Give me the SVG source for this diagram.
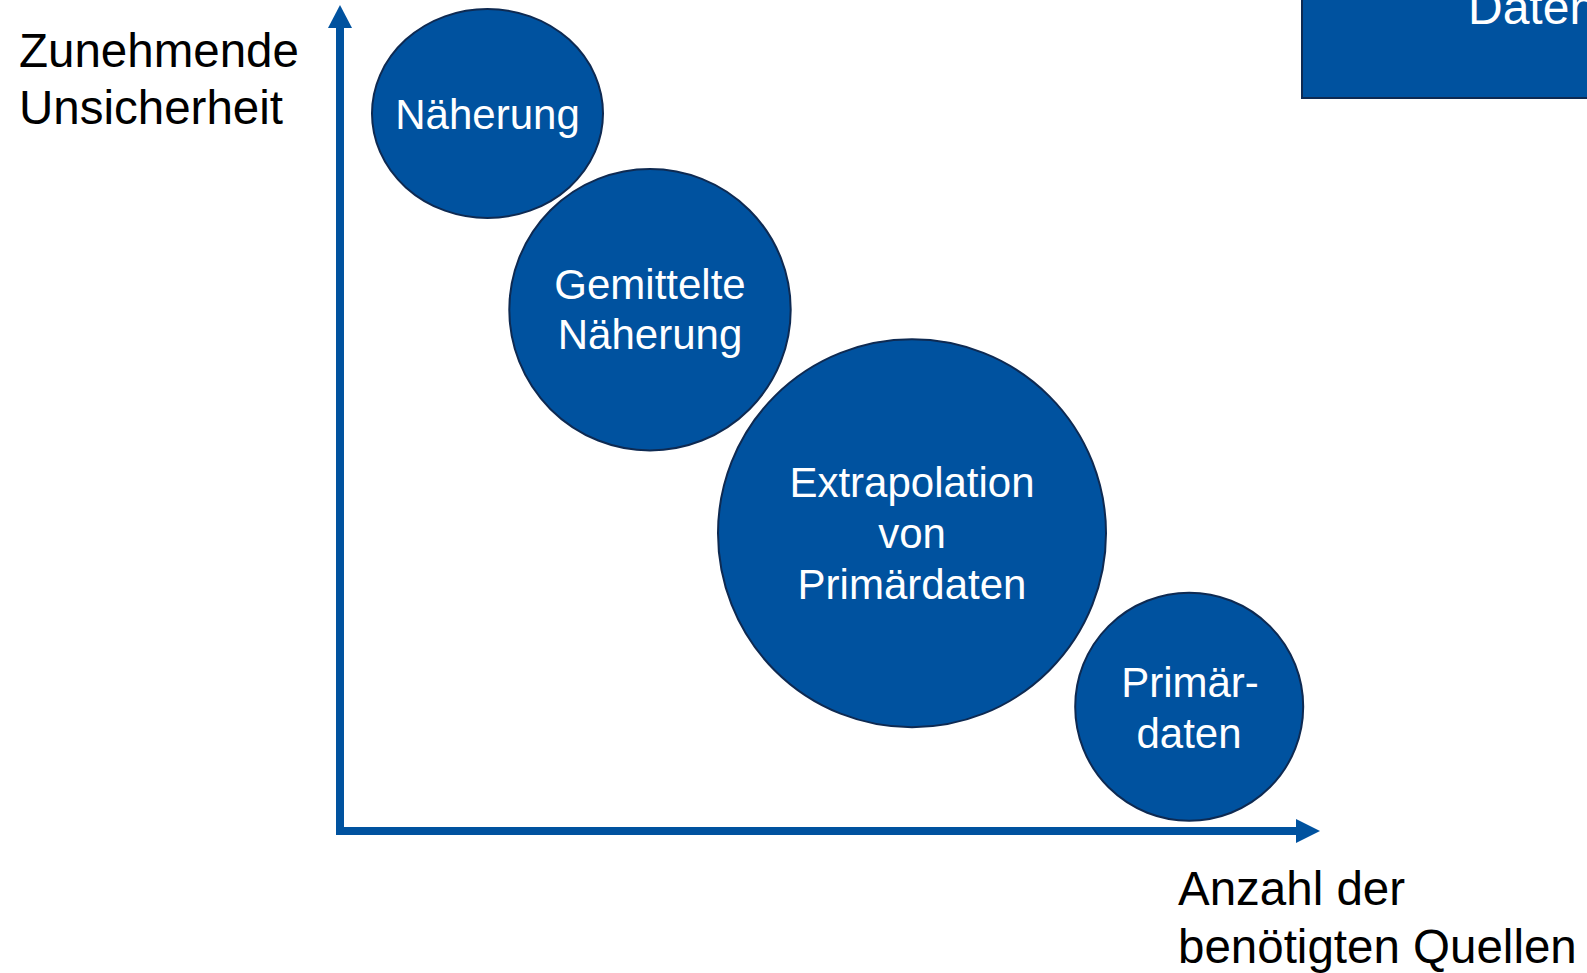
<svg xmlns="http://www.w3.org/2000/svg" width="1587" height="973" viewBox="0 0 1587 973">
<style>
.node{fill:#00529F;stroke:#0E2A52;stroke-width:2}
.wt{fill:#FFFFFF;font-family:"Liberation Sans",Arial,sans-serif;font-size:42px;text-anchor:middle}
.bt{fill:#000000;font-family:"Liberation Sans",Arial,sans-serif;font-size:47.5px}
.axis{stroke:#00529F;stroke-width:8;fill:none}
.head{fill:#00529F}
</style>
<rect width="1587" height="973" fill="#FFFFFF"/>
<g id="box-daten">
<rect class="node" x="1302" y="-20" width="300" height="118"/>
<text class="wt" x="1468" y="24" style="text-anchor:start;font-size:48px">Daten</text>
</g>
<g id="connectors">
<path class="axis" d="M340 835 V26"/>
<path class="axis" d="M336 831 H1298"/>
<polygon class="head" points="340,5 352,28 328,28"/>
<polygon class="head" points="1320,831 1296,819 1296,843"/>
</g>
<g id="label-y">
<text class="bt" x="19" y="67">Zunehmende</text>
<text class="bt" x="19" y="124">Unsicherheit</text>
</g>
<g id="label-x">
<text class="bt" x="1178" y="905">Anzahl der</text>
<text class="bt" x="1178" y="963">benötigten Quellen</text>
</g>
<g id="n-naeherung">
<ellipse class="node" cx="487.5" cy="113.5" rx="115.5" ry="104.5"/>
<text class="wt" x="487.5" y="129">Näherung</text>
</g>
<g id="n-gemittelte">
<circle class="node" cx="650" cy="309.7" r="140.7"/>
<text class="wt" x="650" y="299">Gemittelte</text>
<text class="wt" x="650" y="349">Näherung</text>
</g>
<g id="n-extrapolation">
<circle class="node" cx="912" cy="533.3" r="194"/>
<text class="wt" x="912" y="497">Extrapolation</text>
<text class="wt" x="912" y="548">von</text>
<text class="wt" x="912" y="599">Primärdaten</text>
</g>
<g id="n-primaerdaten">
<circle class="node" cx="1189.2" cy="706.7" r="114"/>
<text class="wt" x="1190" y="697">Primär-</text>
<text class="wt" x="1189" y="748">daten</text>
</g>
</svg>
